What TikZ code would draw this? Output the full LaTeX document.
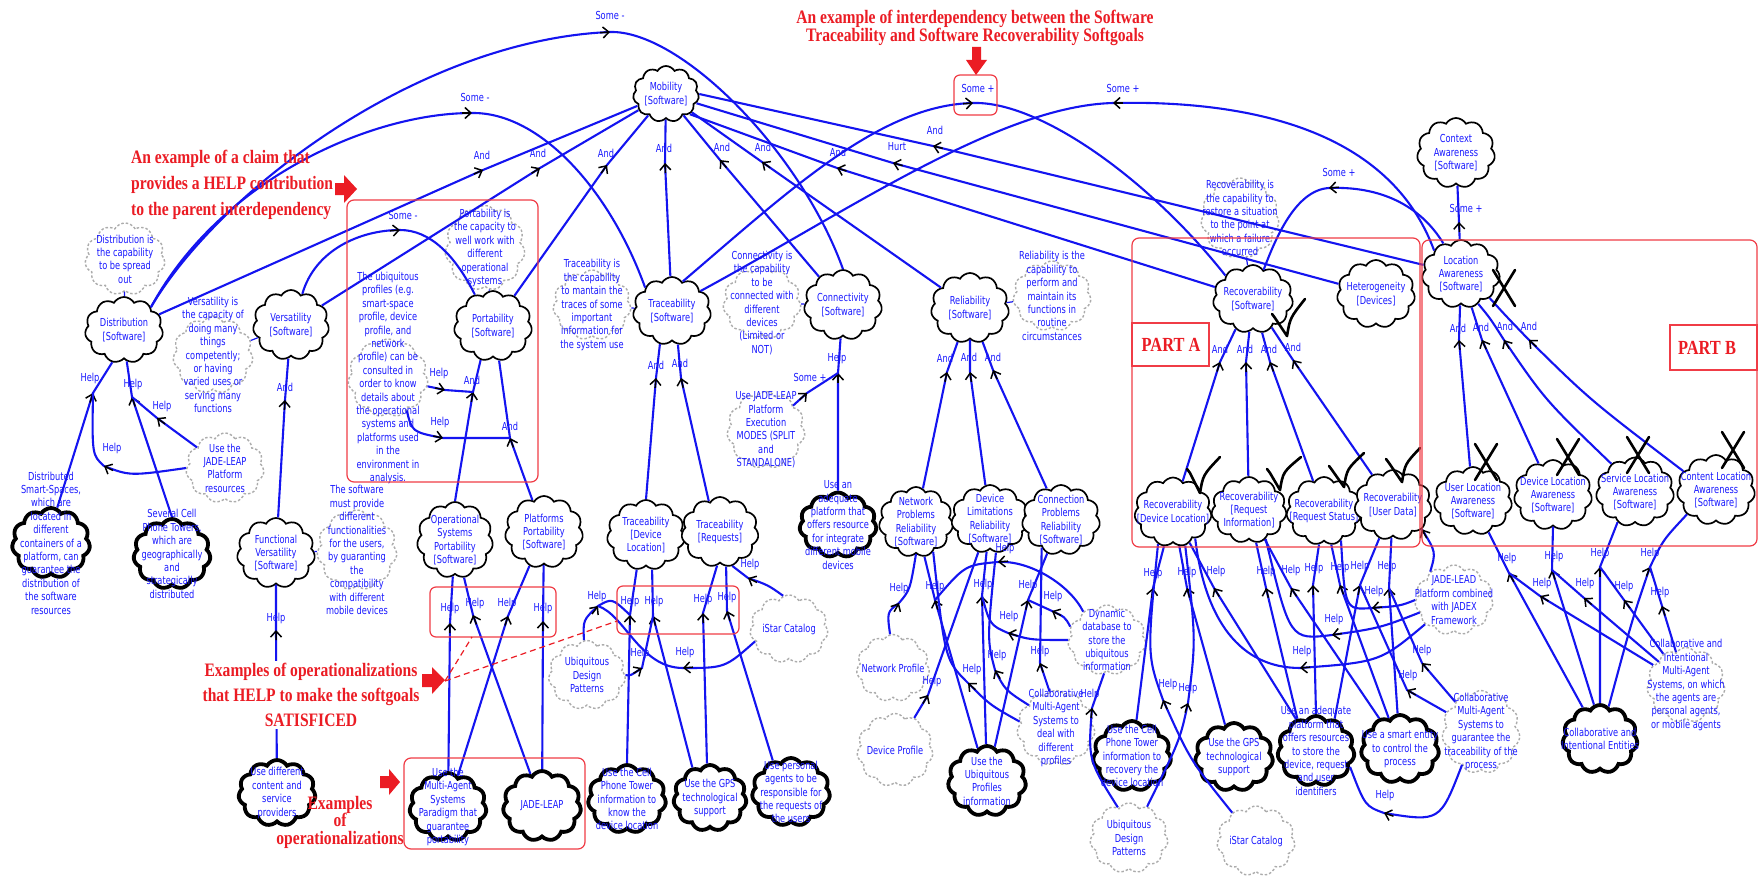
\documentclass[tikz,border=0pt]{standalone}
\usepackage{fontspec}
\setmainfont{DejaVu Sans}[FakeStretch=0.75]
\newfontfamily\redf{Liberation Serif}[FakeStretch=0.82]
\usetikzlibrary{shapes.symbols,arrows.meta,calc}

\definecolor{lnblue}{RGB}{20,20,240}
\definecolor{txblue}{RGB}{25,25,255}
\definecolor{rd}{RGB}{235,28,36}
\definecolor{boxrd}{RGB}{240,60,70}

\tikzset{
  sg/.style={cloud, cloud puffs=11, cloud puff arc=120, cloud ignores aspect,
             draw=black, line width=1.7pt, fill=white, inner sep=0pt},
  op/.style={sg, line width=3.8pt},
  cl/.style={sg, draw=gray!65, line width=1.4pt, dash pattern=on 2.5pt off 2pt},
  tx/.style={text=txblue, align=center, inner sep=0pt, font=\fontsize{11}{13.4}\selectfont},
  link/.style={draw=lnblue, line width=2.1pt},
  cn/.style={draw=lnblue, line width=1.2pt},
  lab/.style={text=txblue, inner sep=0pt, font=\fontsize{11}{12}\selectfont},
  tipst/.style={draw=black, line width=1.5pt, -{Straight Barb[length=6pt,width=11pt]}},
  chkst/.style={draw=black, line width=2.6pt, line cap=round, line join=round},
  redbox/.style={draw=boxrd, line width=1.2pt, rounded corners=7pt},
  sqbox/.style={draw=boxrd, line width=1.2pt},
  redtx/.style={text=rd, inner sep=0pt},
  redarrow/.style={fill=rd, draw=none}
}

% cloud with its text: style, name, centre, width, height, text
\newcommand\sgn[6]{%
  \node[#1, minimum width=#4pt, minimum height=#5pt] (#2) at (#3) {};
  \node[tx] (#2-t) at (#3) {#6};}
% straight contribution link: tip name, source, target, tip, label position, label
\newcommand\slink[6]{%
  \draw[link] (#2) -- (#4) -- (#3);
  \coordinate (#1) at (#4);
  \draw[tipst] ($(#1)!10pt!(#2)$) -- (#1);
  \node[lab] (#1-l) at (#5) {#6};}
% curved contribution link: tip name, path, point before tip, tip, label position, label
\newcommand\clink[6]{%
  \draw[link] #2;
  \coordinate (#1) at (#4);
  \draw[tipst] ($(#1)!10pt!(#3)$) -- (#1);
  \node[lab] (#1-l) at (#5) {#6};}
% satisficed and denied marks
\newcommand\chk[3]{\draw[chkst] ($(#1)+(-3,-4)$) -- (#1) -- (#2) .. controls ($(#2)+(3,-18)$) .. (#3);}
\newcommand\xmk[1]{\draw[chkst] ($(#1)+(-11,-18)$) -- ($(#1)+(11,18)$) ($(#1)+(11,-18)$) -- ($(#1)+(-11,18)$);}

\begin{document}
\begin{tikzpicture}[x=1pt,y=-1pt]
\fill[white] (0,0) rectangle (1762,883);
\useasboundingbox (0,0) rectangle (1762,883);

% ---------------- softgoals ----------------
\sgn{sg}{mob}{666,94}{66}{56}{Mobility\\{}[Software]}
\sgn{sg}{dist}{124,330}{78}{66}{Distribution\\{}[Software]}
\sgn{sg}{vers}{291,325}{76}{70}{Versatility\\{}[Software]}
\sgn{sg}{port}{493,326}{78}{70}{Portability\\{}[Software]}
\sgn{sg}{trace}{672,311}{78}{68}{Traceability\\{}[Software]}
\sgn{sg}{conn}{843,305}{78}{70}{Connectivity\\{}[Software]}
\sgn{sg}{rel}{970,308}{78}{70}{Reliability\\{}[Software]}
\sgn{sg}{rec}{1253,299}{80}{68}{Recoverability\\{}[Software]}
\sgn{sg}{het}{1376,294}{78}{68}{Heterogeneity\\{}[Devices]}
\sgn{sg}{loc}{1461,274}{78}{68}{Location\\Awareness\\{}[Software]}
\sgn{sg}{ctx}{1456,153}{78}{70}{Context\\Awareness\\{}[Software]}
\sgn{sg}{funcv}{276,553}{78}{70}{Functional\\Versatility\\{}[Software]}
\sgn{sg}{opsys}{455,540}{76}{76}{Operational\\Systems\\Portability\\{}[Software]}
\sgn{sg}{platf}{544,532}{78}{72}{Platforms\\Portability\\{}[Software]}
\sgn{sg}{tdl}{646,535}{78}{70}{Traceability\\{}[Device\\Location]}
\sgn{sg}{treq}{720,532}{77}{70}{Traceability\\{}[Requests]}
\sgn{sg}{netp}{916,522}{74}{70}{Network\\Problems\\Reliability\\{}[Software]}
\sgn{sg}{devl}{990,519}{77}{68}{Device\\Limitations\\Reliability\\{}[Software]}
\sgn{sg}{connp}{1061,520}{78}{70}{Connection\\Problems\\Reliability\\{}[Software]}
\sgn{sg}{recdl}{1173,512}{77}{69}{Recoverability\\{}[Device Location]}
\sgn{sg}{recri}{1249,510}{75}{66}{Recoverability\\{}[Request\\Information]}
\sgn{sg}{recrs}{1324,511}{75}{68}{Recoverability\\{}[Request Status]}
\sgn{sg}{recud}{1393,505}{77}{70}{Recoverability\\{}[User Data]}
\sgn{sg}{ula}{1473,501}{78}{68}{User Location\\Awareness\\{}[Software]}
\sgn{sg}{dla}{1553,495}{78}{70}{Device Location\\Awareness\\{}[Software]}
\sgn{sg}{sla}{1635,492}{78}{69}{Service Location\\Awareness\\{}[Software]}
\sgn{sg}{cla}{1716,490}{78}{70}{Content Location\\Awareness\\{}[Software]}

% ---------------- operationalizations ----------------
\sgn{op}{dss}{51,543}{78}{70}{Distributed\\Smart-Spaces,\\which are\\located in\\different\\containers of a\\platform, can\\guarantee the\\distribution of\\the software\\resources}
\sgn{op}{sev}{172,554}{77}{70}{Several Cell\\Phone Towers,\\which are\\geographically\\and\\strategically\\distributed}
\sgn{op}{adeq1}{838,525}{77}{65}{Use an\\adequate\\platform that\\offers resource\\for integrate\\different mobile\\devices}
\sgn{op}{usediff}{277,793}{77}{66}{Use different\\content and\\service\\providers}
\sgn{op}{masp}{448,807}{77}{68}{Use the\\Multi-Agent\\Systems\\Paradigm that\\guarantee\\portability}
\sgn{op}{jleap}{542,806}{78}{70}{JADE-LEAP}
\sgn{op}{cell1}{627,799}{78}{68}{Use the Cell\\Phone Tower\\information to\\know the\\device location}
\sgn{op}{gps1}{710,798}{73}{66}{Use the GPS\\technological\\support}
\sgn{op}{pers}{791,792}{78}{68}{Use personal\\agents to be\\responsible for\\the requests of\\the users}
\sgn{op}{ubiqp}{987,781}{78}{70}{Use the\\Ubiquitous\\Profiles\\information}
\sgn{op}{cell2}{1132,756}{78}{70}{Use the Cell\\Phone Tower\\information to\\recovery the\\device location}
\sgn{op}{gps2}{1234,757}{78}{68}{Use the GPS\\technological\\support}
\sgn{op}{adeq2}{1316,751}{77}{70}{Use an adequate\\platform that\\offers resources\\to store the\\device, request\\and user\\identifiers}
\sgn{op}{smart}{1400,749}{78}{68}{Use a smart entity\\to control the\\process}
\sgn{op}{cent}{1600,739}{75}{68}{Collaborative and\\Intentional Entities}

% ---------------- claims ----------------
\sgn{cl}{distc}{125,259}{80}{72}{Distribution is\\the capability\\to be spread\\out}
\sgn{cl}{versc}{213,355}{80}{77}{Versatility is\\the capacity of\\doing many\\things\\competently;\\or having\\varied uses or\\serving many\\functions}
\sgn{cl}{ubiqc}{388,378}{80}{78}{The ubiquitous\\profiles (e.g.\\smart-space\\profile, device\\profile, and\\network\\profile) can be\\consulted in\\order to know\\details about\\the operational\\systems and\\platforms used\\in the\\environment in\\analysis.}
\sgn{cl}{portc}{485,248}{80}{85}{Portability is\\the capacity to\\well work with\\different\\operational\\systems}
\sgn{cl}{tracec}{592,305}{78}{70}{Traceability is\\the capability\\to mantain the\\traces of some\\important\\information for\\the system use}
\sgn{cl}{connc}{762,303}{78}{72}{Connectivity is\\the capability\\to be\\connected with\\different\\devices\\(Limited or\\NOT)}
\sgn{cl}{relc}{1052,296}{78}{70}{Reliability is the\\capability to\\perform and\\maintain its\\functions in\\routine\\circumstances}
\sgn{cl}{recc}{1240,218}{78}{80}{Recoverability is\\the capability to\\restore a situation\\to the point at\\which a failure\\occurred}
\sgn{cl}{jmodes}{766,430}{78}{77}{Use JADE-LEAP\\Platform\\Execution\\MODES (SPLIT\\and\\STANDALONE)}
\sgn{cl}{jres}{225,468}{78}{70}{Use the\\JADE-LEAP\\Platform\\resources}
\sgn{cl}{funcc}{357,550}{80}{80}{The software\\must provide\\different\\functionalities\\for the users,\\by guaranting\\the\\compatibility\\with different\\mobile devices}
\sgn{cl}{udp1}{587,675}{77}{69}{Ubiquitous\\Design\\Patterns}
\sgn{cl}{istar1}{789,629}{78}{68}{iStar Catalog}
\sgn{cl}{netpf}{893,668}{73}{67}{Network Profile}
\sgn{cl}{devpf}{895,750}{76}{73}{Device Profile}
\sgn{cl}{cprof}{1056,728}{78}{75}{Collaborative\\Multi-Agent\\Systems to\\deal with\\different\\profiles}
\sgn{cl}{dyndb}{1107,640}{78}{70}{Dynamic\\database to\\store the\\ubiquitous\\information}
\sgn{cl}{udp2}{1129,838}{78}{70}{Ubiquitous\\Design\\Patterns}
\sgn{cl}{istar2}{1256,841}{78}{70}{iStar Catalog}
\sgn{cl}{ctrace}{1481,732}{78}{83}{Collaborative\\Multi-Agent\\Systems to\\guarantee the\\traceability of the\\process}
\sgn{cl}{jlead}{1454,600}{78}{70}{JADE-LEAD\\Platform combined\\with JADEX\\Framework}
\sgn{cl}{cclaim}{1686,685}{78}{75}{Collaborative and\\Intentional\\Multi-Agent\\Systems, on which\\the agents are\\personal agents,\\or mobile agents}

% ---------------- claim connectors ----------------
\draw[cn] (distc) -- (dist);
\draw[cn] (versc) -- (vers);
\draw[cn] (portc) -- (port);
\draw[cn] (tracec) -- (trace);
\draw[cn] (connc) -- (conn);
\draw[cn] (relc) -- (rel);
\draw[cn] (recc) -- (rec);
\draw[cn] (funcc) -- (funcv);

% ---------------- Mobility decomposition ----------------
\slink{a1}{dist}{mob}{483,170}{482,155}{And}
\slink{a2}{vers}{mob}{540,168}{538,153}{And}
\slink{a3}{port}{mob}{607,165}{606,153}{And}
\slink{a4}{trace}{mob}{665,163}{664,148}{And}
\slink{a5}{conn}{mob}{720,160}{722,147}{And}
\slink{a6}{rel}{mob}{762,162}{763,147}{And}
\slink{a7}{rec}{mob.south east}{837,168}{838,152}{And}
\slink{a8}{het}{mob}{893,163}{897,147}{Hurt}
\slink{a9}{loc}{mob.east}{933,146}{935,130}{And}

% ---------------- interdependencies ----------------
\clink{s1}{(dist.north east) .. controls (220,190) and (420,40) .. (610,32) .. controls (680,30) and (800,150) .. (conn.north)}{596,33}{610,32}{610,15}{Some -}
\clink{s2}{(dist.north east) .. controls (220,180) and (370,113) .. (472,113) .. controls (540,112) and (610,190) .. (trace.north west)}{458,113}{472,113}{475,97}{Some -}
\clink{s3}{(vers.70) .. controls (315,250) and (360,230) .. (400,230) .. controls (430,230) and (455,255) .. (port.120)}{388,231}{400,230}{403,215}{Some -}
\clink{s4}{(trace.70) .. controls (790,190) and (880,105) .. (973,103) .. controls (1040,101) and (1150,180) .. (rec.north west)}{960,104}{973,103}{978,88}{Some +}
\clink{s5}{(loc.north west) .. controls (1390,130) and (1250,100) .. (1113,103) .. controls (1000,106) and (850,210) .. (trace.35)}{1126,103}{1113,103}{1123,88}{Some +}
\clink{s6}{(loc.120) .. controls (1420,205) and (1380,186) .. (1329,188) .. controls (1295,190) and (1275,240) .. (rec.70)}{1342,187}{1329,188}{1339,172}{Some +}
\slink{s7}{loc}{ctx}{1459,222}{1466,208}{Some +}

% ---------------- Traceability and Connectivity ----------------
\slink{t1}{tdl.north}{trace.250}{656,378}{656,365}{And}
\slink{t2}{treq.110}{trace.280}{681,378}{680,363}{And}
\slink{c1}{adeq1}{conn}{838,373}{837,358}{Help}
\slink{c2}{jmodes}{c1}{807,393}{810,377}{Some +}

% ---------------- Reliability, Recoverability, Location Awareness ----------------
\slink{r1}{netp}{rel.250}{947,372}{945,358}{And}
\slink{r2}{devl}{rel.south}{970,372}{969,357}{And}
\slink{r3}{connp}{rel}{993,370}{993,357}{And}
\slink{v1}{recdl}{rec.240}{1220,362}{1220,349}{And}
\slink{v2}{recri}{rec}{1246,362}{1245,349}{And}
\slink{v3}{recrs}{rec}{1270,362}{1269,349}{And}
\slink{v4}{recud}{rec}{1293,360}{1293,347}{And}
\slink{l1}{ula}{loc}{1459,340}{1458,328}{And}
\slink{l2}{dla}{loc}{1482,340}{1481,327}{And}
\clink{l3}{(sla.130) .. controls (1545,400) .. (1504,340) .. controls (1490,318) .. (loc.-60)}{1510,350}{1504,340}{1505,326}{And}
\clink{l4}{(cla.150) .. controls (1590,400) .. (1529,340) .. controls (1505,315) .. (loc.-40)}{1538,348}{1529,340}{1529,326}{And}

% ---------------- Distribution, Versatility, Portability ----------------
\slink{d1}{dss.80}{dist.250}{93,393}{90,378}{Help}
\slink{d2}{sev.north}{dist.275}{132,397}{133,384}{Help}
\slink{d3}{jres}{d2}{157,418}{162,406}{Help}
\clink{d4}{(jres.west) .. controls (130,476) .. (104,466) .. controls (92,455) .. (d1)}{114,471}{104,466}{112,448}{Help}
\slink{f1}{funcv}{vers}{285,400}{285,387}{And}
\slink{f2}{usediff}{funcv}{276,630}{276,618}{Help}
\slink{p1}{opsys.north}{port.250}{473,392}{472,380}{And}
\slink{p2}{platf.110}{port.280}{510,438}{510,426}{And}
\slink{p3}{ubiqc}{p1}{445,390}{439,373}{Help}
\clink{p4}{(ubiqc.-60) .. controls (412,432) .. (443,438) -- (p2)}{433,436}{443,438}{440,422}{Help}

% ---------------- operationalizations of the portability and traceability ----------------
\slink{o1}{masp}{opsys}{450,623}{450,608}{Help}
\slink{o2}{jleap}{opsys}{473,615}{475,603}{Help}
\slink{o3}{masp}{platf}{508,616}{507,603}{Help}
\slink{o4}{jleap}{platf}{543,621}{543,608}{Help}
\slink{m1}{cell1.north}{tdl.255}{630,615}{630,601}{Help}
\slink{m2}{gps1.120}{tdl.280}{653,616}{654,601}{Help}
\slink{m3}{gps1.95}{treq.265}{703,613}{703,599}{Help}
\slink{m4}{pers.120}{treq.280}{727,611}{727,597}{Help}
\clink{m5}{(udp1.95) .. controls (583,620) .. (598,606) .. controls (612,598) .. (m1)}{592,614}{598,606}{597,596}{Help}
\clink{m6}{(istar1.200) .. controls (725,668) .. (683,668) .. controls (640,668) and (625,615) .. (m5)}{695,667}{683,668}{685,652}{Help}
\clink{m7}{(udp1.east) .. controls (630,676) .. (642,668) -- (m2)}{634,673}{642,668}{640,653}{Help}
\clink{m8}{(istar1.100) .. controls (768,585) .. (748,578) -- (treq.-70)}{756,582}{748,578}{750,564}{Help}

% ---------------- operationalizations of the reliability ----------------
\clink{n1}{(netpf.95) .. controls (887,612) .. (899,603) .. controls (910,590) .. (netp.south)}{894,612}{899,603}{899,588}{Help}
\slink{n2}{devpf}{devl}{928,695}{932,681}{Help}
\slink{n3}{ubiqp}{netp}{935,600}{935,586}{Help}
\slink{n4}{ubiqp}{devl}{982,596}{983,584}{Help}
\slink{n5}{ubiqp}{connp}{1028,600}{1028,585}{Help}
\clink{n6}{(cprof.170) .. controls (990,705) .. (968,683) .. controls (945,660) .. (netp.-60)}{978,692}{968,683}{972,669}{Help}
\clink{n7}{(cprof.140) .. controls (1005,690) .. (995,670) .. controls (987,640) .. (devl.-80)}{1001,680}{995,670}{997,655}{Help}
\slink{n8}{cprof.100}{connp.235}{1040,663}{1040,651}{Help}
\clink{n9}{(dyndb.160) .. controls (1065,617) .. (1052,611) -- (n5)}{1062,616}{1052,611}{1053,596}{Help}
\clink{n10}{(dyndb.west) .. controls (1030,640) .. (1008,633) .. controls (990,625) .. (n4)}{1018,636}{1008,633}{1009,616}{Help}
\clink{n11}{(dyndb.130) .. controls (1070,585) and (1030,560) .. (998,562) .. controls (965,565) .. (n3)}{1010,561}{998,562}{1005,548}{Help}
\clink{n12}{(udp2.110) .. controls (1088,760) .. (1092,708) -- (dyndb.-95)}{1091,718}{1092,708}{1090,694}{Help}

% ---------------- operationalizations of the recoverability (part A) ----------------
\slink{h1}{cell2}{recdl}{1153,588}{1153,573}{Help}
\slink{h2}{gps2}{recdl}{1187,588}{1187,572}{Help}
\slink{h3}{adeq2}{recdl}{1214,588}{1216,571}{Help}
\clink{h4}{(udp2.60) .. controls (1180,740) .. (1188,703) .. controls (1196,640) .. (recdl.-70)}{1185,713}{1188,703}{1188,688}{Help}
\clink{h5}{(istar2.130) .. controls (1190,760) .. (1163,700) .. controls (1147,655) .. (recdl.245)}{1168,711}{1163,700}{1168,684}{Help}
\slink{h6}{adeq2.120}{recri}{1266,588}{1266,571}{Help}
\slink{h7}{smart}{recri}{1291,588}{1291,570}{Help}
\slink{h8}{adeq2.north}{recrs}{1313,585}{1314,568}{Help}
\slink{h9}{smart}{recrs}{1340,585}{1340,567}{Help}
\slink{h10}{adeq2.60}{recud}{1360,585}{1360,566}{Help}
\slink{h11}{smart}{recud}{1389,588}{1387,566}{Help}
\slink{h12}{ctrace}{h11}{1422,663}{1422,650}{Help}
\slink{h13}{ctrace}{h10}{1407,690}{1408,675}{Help}
\clink{h14}{(jlead.west) .. controls (1400,606) .. (1372,608) .. controls (1345,610) .. (recrs.-60)}{1382,607}{1372,608}{1374,591}{Help}
\clink{h15}{(jlead.200) .. controls (1380,628) .. (1332,635) .. controls (1290,640) .. (recri.-60)}{1345,633}{1332,635}{1334,619}{Help}
\clink{h16}{(jlead.220) .. controls (1380,662) .. (1300,668) .. controls (1240,668) and (1205,620) .. (recdl.-50)}{1312,667}{1300,668}{1302,651}{Help}
\clink{h17}{(ctrace.-120) .. controls (1440,822) .. (1384,813) .. controls (1365,806) .. (adeq2.-25)}{1396,817}{1384,813}{1385,795}{Help}
\draw[link] (jlead.130) .. controls (1436,552) .. (recud.-40) coordinate (h18);
\draw[tipst] ($(h18)!10pt!(1432,548)$) -- (h18);

% ---------------- operationalizations of the location awareness (part B) ----------------
\slink{b1}{cent}{ula}{1509,573}{1507,558}{Help}
\slink{b2}{cent.100}{dla.south}{1552,570}{1554,556}{Help}
\slink{b3}{cent.north}{sla.240}{1600,567}{1600,553}{Help}
\clink{b4}{(cent.75) .. controls (1632,620) .. (1650,567) .. controls (1663,540) .. (cla.220)}{1645,580}{1650,567}{1650,553}{Help}
\slink{b5}{cclaim}{b1}{1540,596}{1542,583}{Help}
\slink{b6}{cclaim}{b2}{1584,598}{1585,583}{Help}
\slink{b7}{cclaim}{b3}{1624,600}{1624,586}{Help}
\slink{b8}{cclaim}{b4}{1662,606}{1660,592}{Help}

% ---------------- evaluation marks ----------------
\chk{1275,318}{1287,336}{1305,299}
\chk{1190,473}{1200,493}{1220,457}
\chk{1270,473}{1280,490}{1301,457}
\chk{1332,470}{1344,487}{1364,453}
\chk{1389,463}{1402,482}{1420,448}
\xmk{1504,288}
\xmk{1486,462}
\xmk{1568,457}
\xmk{1638,455}
\xmk{1733,450}

% ---------------- annotations ----------------
\draw[redbox] (347,200) rectangle (538,482);
\draw[redbox, rounded corners=6pt] (954,75) rectangle (997,115);
\draw[redbox] (1132,238) rectangle (1420,547);
\draw[redbox] (1422,240) rectangle (1757,546);
\draw[sqbox] (1132,323) rectangle (1209,366);
\draw[sqbox] (1670,325) rectangle (1757,370);
\draw[redbox, rounded corners=6pt] (430,587) rectangle (556,637);
\draw[redbox, rounded corners=6pt] (617,586) rectangle (739,634);
\draw[redbox] (404,758) rectangle (585,849);

\node[redtx, font=\redf\bfseries\fontsize{20}{20}\selectfont] (parta) at (1171,345) {PART A};
\node[redtx, font=\redf\bfseries\fontsize{20}{20}\selectfont] (partb) at (1707,348) {PART B};

\node[redtx, align=center, font=\redf\bfseries\fontsize{19}{18}\selectfont] (note1) at (975,28)
  {An example of interdependency between the Software\\Traceability and Software Recoverability Softgoals};
\node[redtx, align=left, anchor=west, font=\redf\bfseries\fontsize{19}{25.7}\selectfont] (note2) at (131,185)
  {An example of a claim that\\provides a HELP contribution\\to the parent interdependency};
\node[redtx, align=center, fill=white, inner sep=2pt, font=\redf\bfseries\fontsize{19}{25}\selectfont] (note3) at (311,695)
  {Examples of operationalizations\\that HELP to make the softgoals\\SATISFICED};
\node[redtx, align=center, font=\redf\bfseries\fontsize{19}{17.5}\selectfont] (note4) at (340,822)
  {Examples\\of\\operationalizations};

% block arrows of the annotations
\fill[redarrow] (335,183) -- (344,183) -- (344,175) -- (357,189) -- (344,203) -- (344,195) -- (335,195) -- cycle;
\fill[redarrow] (972,47) -- (981,47) -- (981,60) -- (987,60) -- (976,75) -- (966,60) -- (972,60) -- cycle;
\fill[redarrow] (422,674) -- (432,674) -- (432,667) -- (445,680) -- (432,694) -- (432,687) -- (422,687) -- cycle;
\fill[redarrow] (380,776) -- (389,776) -- (389,769) -- (400,782) -- (389,795) -- (389,788) -- (380,788) -- cycle;
\coordinate (rtip) at (445,681);
\draw[rd, line width=1.2pt, dash pattern=on 6pt off 4pt] (rtip) -- (472,637);
\draw[rd, line width=1.2pt, dash pattern=on 6pt off 4pt] (rtip) -- (617,621);
\end{tikzpicture}
\end{document}
